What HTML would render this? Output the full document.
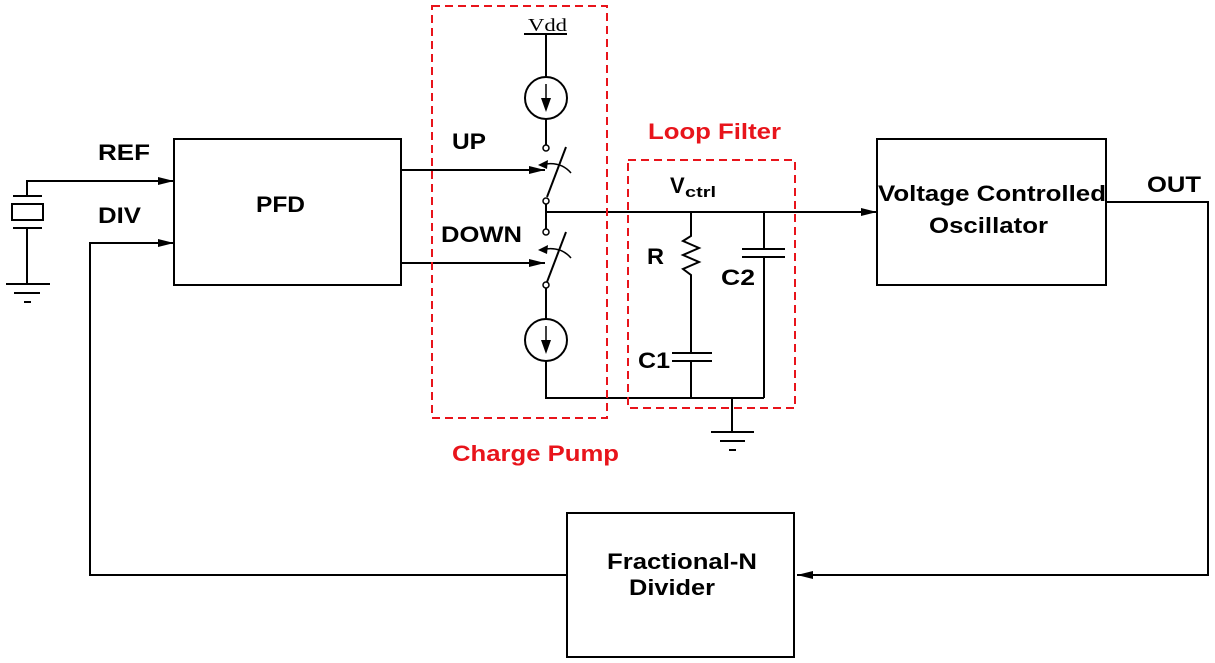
<!DOCTYPE html>
<html><head><meta charset="utf-8"><style>
html,body{margin:0;padding:0;background:#fff;}
svg{display:block;}
text{font-family:"Liberation Sans",Arial,sans-serif;font-weight:bold;}
</style></head><body>
<svg width="1215" height="663" viewBox="0 0 1215 663" xmlns="http://www.w3.org/2000/svg">
<defs>
<marker id="ar" markerWidth="16" markerHeight="8" refX="16" refY="4" orient="auto" markerUnits="userSpaceOnUse">
<path d="M0,0 L16,4 L0,8 Z" fill="#000"/></marker>
</defs>
<g stroke="#000" stroke-width="2" fill="none">
<polyline points="27,196 27,181 174,181" marker-end="url(#ar)"/>
<line x1="13" y1="196" x2="42" y2="196"/>
<rect x="12" y="204" width="31" height="16"/>
<line x1="13" y1="228" x2="42" y2="228"/>
<line x1="27" y1="228" x2="27" y2="284"/>
<line x1="6" y1="284" x2="50" y2="284"/>
<line x1="14" y1="293" x2="40" y2="293"/>
<line x1="24" y1="302" x2="31" y2="302"/>
<polyline points="567,575 90,575 90,243 174,243" marker-end="url(#ar)"/>
<rect x="174" y="139" width="227" height="146"/>
<line x1="401" y1="170" x2="545" y2="170" marker-end="url(#ar)"/>
<line x1="401" y1="263" x2="545" y2="263" marker-end="url(#ar)"/>
<line x1="524" y1="34" x2="567" y2="34"/>
<line x1="546" y1="34" x2="546" y2="77"/>
<circle cx="546" cy="98" r="21"/>
<line x1="546" y1="119" x2="546" y2="145"/>
<circle cx="546" cy="148" r="3" stroke-width="1.5"/>
<line x1="547" y1="197" x2="566" y2="147"/>
<path d="M540,165 Q560,160 571,173" stroke-width="1.5"/>
<circle cx="546" cy="201" r="3" stroke-width="1.5"/>
<line x1="546" y1="204" x2="546" y2="229"/>
<circle cx="546" cy="232" r="3" stroke-width="1.5"/>
<line x1="547" y1="282" x2="566" y2="232"/>
<path d="M540,250 Q560,245 571,258" stroke-width="1.5"/>
<circle cx="546" cy="285" r="3" stroke-width="1.5"/>
<line x1="546" y1="288" x2="546" y2="319"/>
<circle cx="546" cy="340" r="21"/>
<polyline points="546,361 546,398 764,398"/>
<line x1="546" y1="212" x2="877" y2="212" marker-end="url(#ar)"/>
<polyline points="691,212 691,236 683,241 699,248 683,255 699,262 683,269 691,275 691,353"/>
<line x1="672" y1="353" x2="712" y2="353"/>
<line x1="672" y1="361" x2="712" y2="361"/>
<line x1="691" y1="361" x2="691" y2="398"/>
<line x1="764" y1="212" x2="764" y2="249"/>
<line x1="742" y1="249" x2="785" y2="249"/>
<line x1="742" y1="257" x2="785" y2="257"/>
<line x1="764" y1="257" x2="764" y2="398"/>
<line x1="732" y1="398" x2="732" y2="432"/>
<line x1="711" y1="432" x2="754" y2="432"/>
<line x1="720" y1="441" x2="745" y2="441"/>
<line x1="729" y1="450" x2="736" y2="450"/>
<rect x="877" y="139" width="229" height="146"/>
<polyline points="1106,202 1208,202 1208,575 797,575" marker-end="url(#ar)"/>
<rect x="567" y="513" width="227" height="144"/>
</g>
<g fill="#000" stroke="none">
<path d="M541,98 L551,98 L546,112 Z"/><line x1="546" y1="84" x2="546" y2="100" stroke="#000" stroke-width="1.5"/>
<path d="M541,340 L551,340 L546,354 Z"/><line x1="546" y1="326" x2="546" y2="342" stroke="#000" stroke-width="1.5"/>
<path d="M538,165 L548,160 L547,169 Z"/>
<path d="M538,250 L548,245 L547,254 Z"/>
</g>
<g fill="none" stroke="#e8141b" stroke-width="2" stroke-dasharray="8,5">
<rect x="432" y="6" width="175" height="412"/>
<rect x="628" y="160" width="167" height="248"/>
</g>
<text x="528" y="31" style="font-family:'Liberation Serif',serif;font-weight:normal" font-size="18" textLength="39" lengthAdjust="spacingAndGlyphs">Vdd</text>
<g font-size="22">
<text x="98" y="160" textLength="52" lengthAdjust="spacingAndGlyphs">REF</text>
<text x="98" y="223" textLength="43" lengthAdjust="spacingAndGlyphs">DIV</text>
<text x="452" y="149" textLength="34" lengthAdjust="spacingAndGlyphs">UP</text>
<text x="441" y="242" textLength="81" lengthAdjust="spacingAndGlyphs">DOWN</text>
<text x="256" y="212" textLength="49" lengthAdjust="spacingAndGlyphs">PFD</text>
<text x="648" y="139" fill="#e8141b" textLength="133" lengthAdjust="spacingAndGlyphs">Loop Filter</text>
<text x="452" y="461" fill="#e8141b" textLength="167" lengthAdjust="spacingAndGlyphs">Charge Pump</text>
<text x="670" y="193">V</text><text x="685" y="197" font-size="15" textLength="31" lengthAdjust="spacingAndGlyphs">ctrl</text>
<text x="647" y="264" textLength="17" lengthAdjust="spacingAndGlyphs">R</text>
<text x="721" y="285" textLength="34" lengthAdjust="spacingAndGlyphs">C2</text>
<text x="638" y="368" textLength="32" lengthAdjust="spacingAndGlyphs">C1</text>
<text x="1147" y="192" textLength="54" lengthAdjust="spacingAndGlyphs">OUT</text>
<text x="878" y="201" textLength="228" lengthAdjust="spacingAndGlyphs">Voltage Controlled</text>
<text x="929" y="233" textLength="119" lengthAdjust="spacingAndGlyphs">Oscillator</text>
<text x="607" y="569" textLength="150" lengthAdjust="spacingAndGlyphs">Fractional-N</text>
<text x="629" y="595" textLength="86" lengthAdjust="spacingAndGlyphs">Divider</text>
</g>
</svg>
</body></html>
